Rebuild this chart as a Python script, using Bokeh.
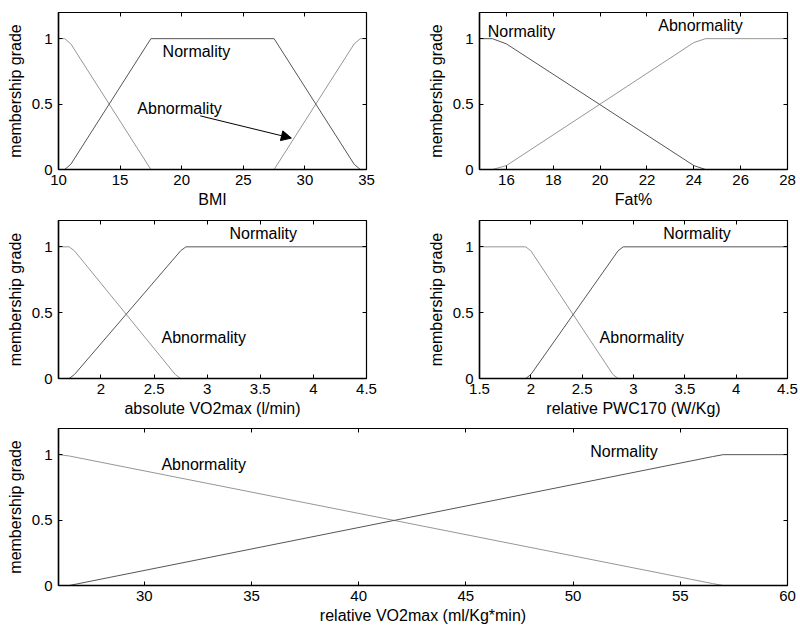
from bokeh.plotting import figure
from bokeh.models import (Range1d, FixedTicker, LinearAxis, Label, Arrow,
                          NormalHead, NumeralTickFormatter)
from bokeh.layouts import column, row
from bokeh.embed import file_html
from bokeh.resources import INLINE

# ---------------- data ----------------
grade_ticks = [0, 0.5, 1]

bmi_ticks = [10, 15, 20, 25, 30, 35]
bmi_norm_x = [10.5, 11.0, 17.5, 27.5, 34.0, 34.5]
bmi_norm_y = [0, 0.04, 1, 1, 0.04, 0]
bmi_abn_low_x = [10, 10.5, 11.0, 17.5]
bmi_abn_low_y = [1, 1, 0.96, 0]
bmi_abn_high_x = [27.5, 34.0, 34.5, 35]
bmi_abn_high_y = [0, 0.96, 1, 1]

fat_ticks = [16, 18, 20, 22, 24, 26, 28]
fat_norm_x = [14.85, 15.4, 16.0, 24.0, 24.5]
fat_norm_y = [1, 1, 0.96, 0.03, 0]
fat_abn_x = [15.4, 16.0, 24.0, 24.5, 28]
fat_abn_y = [0, 0.03, 0.97, 1, 1]

abs_ticks = [2, 2.5, 3, 3.5, 4, 4.5]
abs_norm_x = [1.7, 1.75, 2.75, 2.8, 4.5]
abs_norm_y = [0, 0.03, 0.97, 1, 1]
abs_abn_x = [1.6, 1.7, 1.75, 2.7, 2.75]
abs_abn_y = [1, 1, 0.97, 0.03, 0]

pwc_ticks = [1.5, 2, 2.5, 3, 3.5, 4, 4.5]
pwc_norm_x = [1.95, 2.0, 2.85, 2.9, 4.5]
pwc_norm_y = [0, 0.03, 0.97, 1, 1]
pwc_abn_x = [1.5, 1.95, 2.0, 2.8, 2.85]
pwc_abn_y = [1, 1, 0.97, 0.03, 0]

rel_ticks = [30, 35, 40, 45, 50, 55, 60]
rel_norm_x = [26.5, 56.5, 57.0, 60]
rel_norm_y = [0, 0.985, 1, 1]
rel_abn_x = [26, 26.5, 56.5, 57.0]
rel_abn_y = [1, 0.99, 0.015, 0]

# ---------------- styling ----------------
FONT = "Liberation Sans"
DARK = "#555555"
LIGHT = "#969696"


def make_fig(width, height, xr, xticks, xlabel, ml, mr, mt, mb):
    p = figure(width=width, height=height, x_range=Range1d(*xr),
               y_range=Range1d(0, 1.2), output_backend="svg",
               toolbar_location=None, min_border_left=ml,
               min_border_right=mr, min_border_top=mt, min_border_bottom=mb)
    p.xgrid.visible = False
    p.ygrid.visible = False
    p.outline_line_color = "black"
    p.outline_line_width = 1.2
    p.background_fill_color = "white"
    p.border_fill_color = "white"
    for ax, ticks in ((p.xaxis[0], xticks), (p.yaxis[0], grade_ticks)):
        ax.ticker = FixedTicker(ticks=ticks)
        ax.formatter = NumeralTickFormatter(format="0.[0]")
        ax.major_tick_in = 4
        ax.major_tick_out = 0
        ax.minor_tick_line_color = None
        ax.axis_line_width = 1.5
        ax.axis_line_color = "black"
        ax.major_tick_line_color = "black"
        ax.major_label_text_font = FONT
        ax.major_label_text_font_size = "15px"
        ax.major_label_text_color = "black"
        ax.axis_label_text_font = FONT
        ax.axis_label_text_font_size = "16px"
        ax.axis_label_text_font_style = "normal"
        ax.axis_label_text_color = "black"
    p.xaxis[0].major_label_standoff = 5
    p.xaxis[0].axis_label_standoff = 3
    p.yaxis[0].major_label_standoff = 6
    p.yaxis[0].axis_label_standoff = 5
    p.xaxis[0].axis_label = xlabel
    p.yaxis[0].axis_label = "membership grade"

    top = LinearAxis(ticker=FixedTicker(ticks=xticks), major_tick_in=4,
                     major_tick_out=0, minor_tick_line_color=None,
                     major_label_standoff=0, major_label_text_font_size="0px",
                     major_label_text_color=None, axis_line_color=None)
    p.add_layout(top, "above")
    right = LinearAxis(ticker=FixedTicker(ticks=grade_ticks), major_tick_in=4,
                       major_tick_out=0, minor_tick_line_color=None,
                       major_label_standoff=0, major_label_text_font_size="0px",
                       major_label_text_color=None, axis_line_color=None)
    p.add_layout(right, "right")
    return p


def label(p, x, y, text):
    p.add_layout(Label(x=x, y=y, text=text, text_baseline="middle",
                       text_align="left", text_font=FONT,
                       text_font_size="16px", text_color="black"))


# BMI
p1 = make_fig(408, 216, (10, 35), bmi_ticks, "BMI", 58, 42, 12, 47)
p1.line(bmi_abn_low_x, bmi_abn_low_y, line_color=LIGHT, line_width=1)
p1.line(bmi_abn_high_x, bmi_abn_high_y, line_color=LIGHT, line_width=1)
p1.line(bmi_norm_x, bmi_norm_y, line_color=DARK, line_width=1)
label(p1, 18.45, 0.905, "Normality")
label(p1, 16.4, 0.47, "Abnormality")
p1.add_layout(Arrow(end=NormalHead(size=10, fill_color="black",
                                   line_color="black"),
                    x_start=21.5, y_start=0.41, x_end=28.9, y_end=0.24,
                    line_color="black", line_width=1))

# Fat%
p2 = make_fig(390, 216, (14.85, 28), fat_ticks, "Fat%", 71, 11, 12, 47)
p2.line(fat_abn_x, fat_abn_y, line_color=LIGHT, line_width=1)
p2.line(fat_norm_x, fat_norm_y, line_color=DARK, line_width=1)
label(p2, 15.2, 1.055, "Normality")
label(p2, 22.48, 1.10, "Abnormality")

# absolute VO2max
p3 = make_fig(408, 208, (1.6, 4.5), abs_ticks, "absolute VO2max (l/min)", 58, 42, 4, 46)
p3.line(abs_abn_x, abs_abn_y, line_color=LIGHT, line_width=1)
p3.line(abs_norm_x, abs_norm_y, line_color=DARK, line_width=1)
label(p3, 3.21, 1.105, "Normality")
label(p3, 2.57, 0.31, "Abnormality")

# relative PWC170
p4 = make_fig(390, 208, (1.5, 4.5), pwc_ticks, "relative PWC170 (W/Kg)", 71, 11, 4, 46)
p4.line(pwc_abn_x, pwc_abn_y, line_color=LIGHT, line_width=1)
p4.line(pwc_norm_x, pwc_norm_y, line_color=DARK, line_width=1)
label(p4, 3.29, 1.10, "Normality")
label(p4, 2.67, 0.31, "Abnormality")

# relative VO2max
p5 = make_fig(798, 202, (26, 60), rel_ticks, "relative VO2max (ml/Kg*min)", 58, 11, 4, 40)
p5.line(rel_abn_x, rel_abn_y, line_color=LIGHT, line_width=1)
p5.line(rel_norm_x, rel_norm_y, line_color=DARK, line_width=1)
label(p5, 30.8, 0.924, "Abnormality")
label(p5, 50.8, 1.025, "Normality")

layout = column(row(p1, p2), row(p3, p4), p5)
open("out.html", "w").write(file_html(layout, INLINE))
